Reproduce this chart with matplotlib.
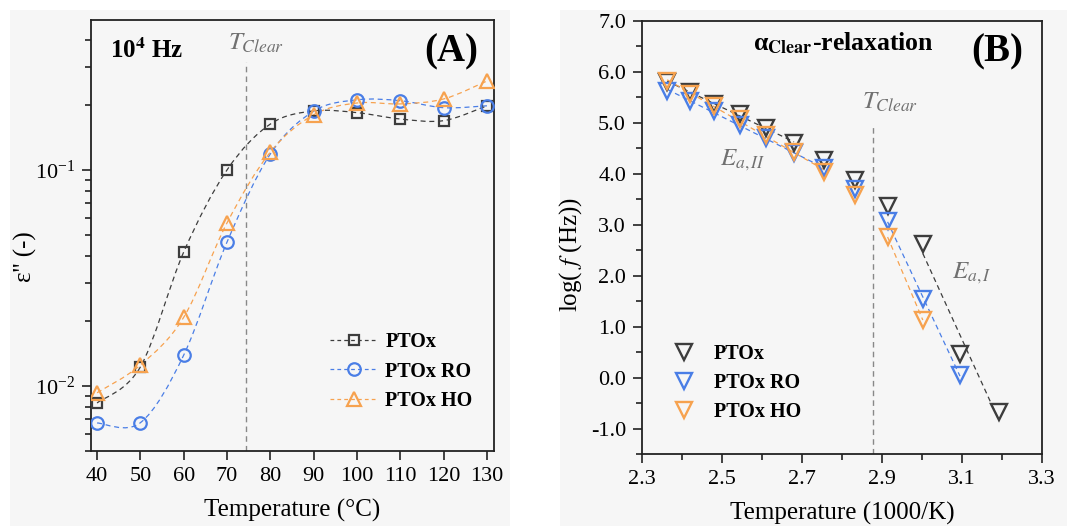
import numpy as np
import matplotlib
matplotlib.use('Agg')
import matplotlib.pyplot as plt
from matplotlib.path import Path
from matplotlib.patches import PathPatch, Rectangle
from matplotlib.lines import Line2D
from matplotlib.ticker import (MultipleLocator, FormatStrFormatter, LogLocator,
                               LogFormatterMathtext, NullFormatter, FixedLocator)

plt.rcParams['font.family'] = ['Liberation Serif', 'DejaVu Serif']
plt.rcParams['mathtext.fontset'] = 'stix'

# ---------------- data: panel A ----------------
temps_c = [40, 50, 60, 70, 80, 90, 100, 110, 120, 130]
eps_ptox = [0.00834, 0.01225, 0.0417, 0.100, 0.163, 0.1875, 0.184, 0.172, 0.169, 0.198]
eps_ro = [0.00674, 0.00676, 0.0139, 0.0464, 0.1186, 0.187, 0.211, 0.209, 0.194, 0.198]
eps_ho = [0.0093, 0.0125, 0.0208, 0.0569, 0.121, 0.180, 0.204, 0.202, 0.213, 0.258]
t_clear_c = 74.3

# ---------------- data: panel B ----------------
inv_T = [2.363, 2.420, 2.480, 2.544, 2.610, 2.680, 2.754, 2.832, 2.914, 3.002, 3.095, 3.193]
logf_ptox = [5.81, 5.60, 5.38, 5.17, 4.89, 4.61, 4.27, 3.88, 3.37, 2.63, 0.46, -0.67]
logf_ro = [5.63, 5.43, 5.23, 4.96, 4.70, 4.40, 4.11, 3.71, 3.08, 1.54, 0.05]
logf_ho = [5.83, 5.56, 5.33, 5.07, 4.76, 4.43, 4.04, 3.58, 2.76, 1.13]
t_clear_inv = 2.878
xticks_B = [2.3, 2.5, 2.7, 2.9, 3.1, 3.3]
xminor_B = [2.4, 2.6, 2.8, 3.0, 3.2]

labels = ['PTOx', 'PTOx RO', 'PTOx HO']
C_BLACK = '#3d3d3d'
C_BLUE = '#4a7ee6'
C_ORANGE = '#f6a24f'
C_GREY = '#707070'

W, H = 1067, 526
fig = plt.figure(figsize=(W / 100, H / 100), dpi=100, facecolor='white')

# light grey panel backgrounds
fig.patches.append(Rectangle((10 / W, 0), 500 / W, (H - 10) / H, transform=fig.transFigure,
                             facecolor='#f6f6f6', edgecolor='none', zorder=-10))
fig.patches.append(Rectangle((560 / W, 0), 507 / W, (H - 10) / H, transform=fig.transFigure,
                             facecolor='#f6f6f6', edgecolor='none', zorder=-10))


def px_axes(l, t, r, b):
    return [l / W, (H - b) / H, (r - l) / W, (b - t) / H]


axA = fig.add_axes(px_axes(91, 20, 494, 451))
axB = fig.add_axes(px_axes(642, 21, 1042, 454))
for ax in (axA, axB):
    ax.set_facecolor('none')
    for s in ax.spines.values():
        s.set_linewidth(1.3)
        s.set_color('#222222')
    ax.tick_params(which='both', direction='out', top=False, right=False,
                   width=1.2, color='#222222', labelsize=16, pad=5)
    ax.tick_params(which='major', length=6.5)
    ax.tick_params(which='minor', length=4.2)


def smooth_path(x, y):
    """Catmull-Rom curve through the data points, in (x, log10 y) space."""
    P = np.column_stack([np.asarray(x, float), np.log10(np.asarray(y, float))])
    n = len(P)
    verts = [P[0]]
    codes = [Path.MOVETO]
    for i in range(n - 1):
        p0 = P[i - 1] if i > 0 else P[i]
        p3 = P[i + 2] if i + 2 < n else P[i + 1]
        c1 = P[i] + (P[i + 1] - p0) / 6.0
        c2 = P[i + 1] - (p3 - P[i]) / 6.0
        verts += [c1, c2, P[i + 1]]
        codes += [Path.CURVE4] * 3
    V = np.array(verts)
    V[:, 1] = 10 ** V[:, 1]
    return Path(V, codes)


# ---------------- panel A ----------------
axA.set_yscale('log')
seriesA = [(eps_ptox, C_BLACK, 's', 7.0), (eps_ro, C_BLUE, 'o', 9.0), (eps_ho, C_ORANGE, '^', 10.0)]
for (vals, c, m, ms) in seriesA:
    axA.add_patch(PathPatch(smooth_path(temps_c, vals), fill=False, ls=(0, (4, 3)),
                            lw=0.9, ec=c, transform=axA.transData, zorder=2))
    axA.plot(temps_c, vals, ls='none', marker=m, ms=ms, mfc='none', mec=c, mew=1.6, zorder=3)

axA.set_xlim(38.6, 131.6)
axA.set_ylim(0.005, 0.494)
axA.xaxis.set_major_locator(MultipleLocator(10))
axA.yaxis.set_major_locator(LogLocator(base=10, numticks=10))
axA.yaxis.set_major_formatter(LogFormatterMathtext())
axA.yaxis.set_minor_locator(LogLocator(base=10, subs=np.arange(2, 10), numticks=20))
axA.yaxis.set_minor_formatter(NullFormatter())
axA.set_xlabel('Temperature (°C)', fontsize=18, labelpad=9)
axA.set_ylabel("ε'' (-)", fontsize=18)
axA.yaxis.set_label_coords(-0.135, 0.45)

axA.axvline(t_clear_c, ymin=0, ymax=0.9026, color='#888888', lw=1.0, ls=(0, (4, 3)), zorder=1)
axA.text(0.340, 0.930, r'$T_{Clear}$', transform=axA.transAxes, fontsize=18,
         color=C_GREY, ha='left', va='baseline')
axA.text(0.047, 0.912, r'10$^{\mathbf{4}}$ Hz', transform=axA.transAxes, fontsize=18,
         fontweight='bold', ha='left', va='baseline')
axA.text(0.962, 0.926, '(A)', transform=axA.transAxes, fontsize=28,
         fontweight='bold', ha='right', va='center')

handlesA = [Line2D([], [], color=c, ls=(0, (3, 2.5)), lw=0.9, marker=m, ms=ms, mfc='none',
                   mec=c, mew=1.6) for (_, c, m, ms) in seriesA]
axA.legend(handlesA, labels, loc='upper left', bbox_to_anchor=(0.593, 0.275),
           frameon=False, borderpad=0, borderaxespad=0, handlelength=2.4,
           handletextpad=0.35, labelspacing=0.45, numpoints=1,
           prop={'weight': 'bold', 'size': 14.5})

# ---------------- panel B ----------------
seriesB = [(logf_ptox, C_BLACK), (logf_ro, C_BLUE), (logf_ho, C_ORANGE)]
# index ranges used for the two Arrhenius fits of each sample
fit_hi = [(0, 6), (0, 7), (0, 7)]
fit_lo = [(9, 12), (8, 11), (8, 10)]
for (vals, c), (a1, b1), (a2, b2) in zip(seriesB, fit_hi, fit_lo):
    x = np.asarray(inv_T[:len(vals)])
    y = np.asarray(vals)
    for a, b in ((a1, b1), (a2, b2)):
        k, q = np.polyfit(x[a:b], y[a:b], 1)
        xs = np.array([x[a], x[b - 1]])
        axB.plot(xs, k * xs + q, color=c, ls=(0, (4, 3)), lw=0.9, zorder=2)
    axB.plot(x, y, ls='none', marker='v', ms=12, mfc='none', mec=c, mew=1.7, zorder=3)

axB.set_xlim(2.3, 3.3)
axB.set_ylim(-1.5, 7.0)
axB.xaxis.set_major_locator(FixedLocator(xticks_B))
axB.xaxis.set_minor_locator(FixedLocator(xminor_B))
axB.xaxis.set_major_formatter(FormatStrFormatter('%.1f'))
axB.yaxis.set_major_locator(MultipleLocator(1.0))
axB.yaxis.set_minor_locator(MultipleLocator(0.5))
axB.yaxis.set_major_formatter(FormatStrFormatter('%.1f'))
axB.set_xlabel('Temperature (1000/K)', fontsize=18, labelpad=9)
axB.set_ylabel(r'log( $\mathit{f}$ (Hz))', fontsize=18)
axB.yaxis.set_label_coords(-0.145, 0.46)

axB.axvline(t_clear_inv, ymin=0, ymax=0.760, color='#888888', lw=1.0, ls=(0, (4, 3)), zorder=1)
axB.text(0.55, 0.797, r'$T_{Clear}$', transform=axB.transAxes, fontsize=18,
         color=C_GREY, ha='left', va='baseline')
axB.text(0.195, 0.667, r'$E_{a,II}$', transform=axB.transAxes, fontsize=18,
         color=C_GREY, ha='left', va='baseline')
axB.text(0.775, 0.406, r'$E_{a,I}$', transform=axB.transAxes, fontsize=18,
         color=C_GREY, ha='left', va='baseline')
axB.text(0.2775, 0.933, r'α$_{\mathbf{Clear}}$-relaxation', transform=axB.transAxes,
         fontsize=18.5, fontweight='bold', ha='left', va='baseline')
axB.text(0.9525, 0.928, '(B)', transform=axB.transAxes, fontsize=28,
         fontweight='bold', ha='right', va='center')

handlesB = [Line2D([], [], ls='none', marker='v', ms=11, mfc='none', mec=c, mew=1.7)
            for (_, c) in seriesB]
axB.legend(handlesB, labels, loc='upper left', bbox_to_anchor=(0.079, 0.255),
           frameon=False, borderpad=0, borderaxespad=0, handlelength=1.0,
           handletextpad=1.0, labelspacing=0.45, numpoints=1,
           prop={'weight': 'bold', 'size': 14.5})

fig.savefig('out.png', dpi=100, facecolor='white')
